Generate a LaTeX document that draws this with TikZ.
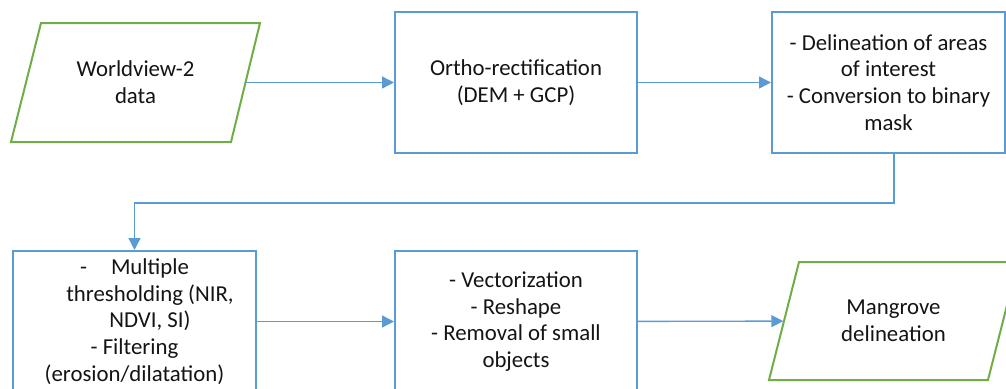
\documentclass[tikz,border=0pt]{standalone}
\usepackage{fontspec}
\setmainfont{Carlito}
\usetikzlibrary{arrows.meta}
\definecolor{boxblue}{HTML}{5B9BD5}
\definecolor{datagreen}{HTML}{70AD47}
\definecolor{txt}{HTML}{141414}
\begin{document}
\begin{tikzpicture}[x=1pt,y=-1pt,
  every node/.style={font=\fontsize{22.8}{26.8}\selectfont, text=txt, align=center, inner sep=0pt},
  procbox/.style={draw=boxblue, line width=2pt, minimum width=242pt, minimum height=141pt},
  databox/.style={minimum width=220pt, minimum height=119pt},
  datashape/.style={draw=datagreen, line width=2pt, line join=miter},
  conn/.style={draw=boxblue, line width=1.4pt, -{Triangle[length=12pt,width=12pt]}}
]
\useasboundingbox (0,0) rectangle (1006,388);
\clip (0,0) rectangle (1006,388);

% data shapes (parallelograms)
\draw[datashape] (41,23) -- (260,23) -- (231,142) -- (11,142) -- cycle;
\node[databox] (p1) at (135.5,82.5) {Worldview-2\\data};

\draw[datashape] (799,262) -- (1018,262) -- (988,380) -- (769,380) -- cycle;
\node[databox] (p2) at (893.5,321) {Mangrove\\delineation};

% process boxes
\node[procbox] (b2) at (516,82.5) {Ortho-rectification\\(DEM + GCP)};
\node[procbox, minimum width=233pt] (b3) at (888.5,82.5) {- Delineation of areas\\of interest\\- Conversion to binary\\mask};
\node[procbox, minimum width=243pt] (b4) at (134.5,321.5) {\hspace*{31pt}\llap{-\hspace{24pt}}Multiple\\\hspace*{31pt}thresholding (NIR,\\\hspace*{31pt}NDVI, SI)\\- Filtering\\(erosion/dilatation)};
\node[procbox] (b5) at (516,321.5) {- Vectorization\\- Reshape\\- Removal of small\\objects};

% connectors
\draw[conn] (p1) -- (b2);
\draw[conn] (b2) -- (b3);
\draw[conn] ([xshift=5.5pt]b3.south) -- ++(0,49) -| (b4.north);
\draw[conn] (b4) -- (b5);
\draw[conn] (b5) -- (p2);
\end{tikzpicture}
\end{document}
